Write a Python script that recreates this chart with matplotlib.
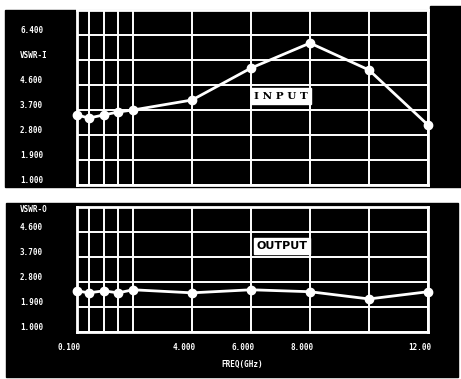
import matplotlib
matplotlib.use("Agg")
import matplotlib.pyplot as plt
from matplotlib.patches import Rectangle
from matplotlib.transforms import blended_transform_factory, ScaledTranslation

# ---- data ----
freq = [0.1, 0.5, 1.0, 1.5, 2.0, 4.0, 6.0, 8.0, 10.0, 12.0]
vswr_in = [3.52, 3.41, 3.52, 3.63, 3.70, 4.06, 5.21, 6.11, 5.14, 3.16]
vswr_out = [2.48, 2.41, 2.48, 2.41, 2.52, 2.41, 2.52, 2.45, 2.19, 2.45]

xtick_vals = [0.1, 4.0, 6.0, 8.0, 12.0]
xtick_labels = ["0.100", "4.000", "6.000", "8.000", "12.00"]
xgrid_minor = [0.5, 1.0, 1.5, 2.0, 10.0]

ytick_top = [1.0, 1.9, 2.8, 3.7, 4.6, 5.5, 6.4]
ylab_top = ["1.000", "1.900", "2.800", "3.700", "4.600", "VSWR-I", "6.400"]
ytick_bot = [1.0, 1.9, 2.8, 3.7, 4.6, 5.5]
ylab_bot = ["1.000", "1.900", "2.800", "3.700", "4.600", "VSWR-O"]

W, H = 461, 379
DPI = 100
fig = plt.figure(figsize=(W / DPI, H / DPI), dpi=DPI, facecolor="white")

def fx(px):
    return px / W

def fy(py):
    return (H - py) / H

# black background panels
for (x0, y0, x1, y1) in [(5, 10, 461, 187), (430, 6, 461, 185), (6, 203, 458, 377)]:
    fig.patches.append(Rectangle((fx(x0), fy(y1)), (x1 - x0) / W, (y1 - y0) / H,
                                 transform=fig.transFigure, color="black", zorder=-5))

L, R = 77, 428
ax1 = fig.add_axes([fx(L), fy(185), (R - L) / W, (185 - 10) / H], zorder=2)
ax2 = fig.add_axes([fx(L), fy(332), (R - L) / W, (332 - 207) / H], zorder=2)

mono = dict(family="DejaVu Sans Mono", weight="bold", size=5.5, color="white", zorder=3)

def style(ax, yt, ylim, ylabels, top_label_shift):
    ax.set_facecolor("black")
    ax.set_xlim(0.1, 12.0)
    ax.set_ylim(*ylim)
    ax.set_xticks(xtick_vals)
    ax.set_xticks(xgrid_minor, minor=True)
    ax.set_yticks(yt)
    ax.grid(True, which="both", color="white", linewidth=1.4)
    ax.tick_params(which="both", length=0, labelbottom=False, labelleft=False)
    for s in ax.spines.values():
        s.set_color("white")
        s.set_linewidth(2)
    tr = blended_transform_factory(fig.transFigure, ax.transData)
    for i, (v, lab) in enumerate(zip(yt, ylabels)):
        dy = 3 if i < len(yt) - 1 else top_label_shift
        off = ScaledTranslation(0, dy / 72, fig.dpi_scale_trans)
        fig.text(fx(20), v, lab, transform=tr + off, ha="left", va="center", **mono)

style(ax1, ytick_top, (1.0, 7.3), ylab_top, 3)
style(ax2, ytick_bot, (1.0, 5.5), ylab_bot, -2)

line_kw = dict(color="white", linewidth=2.0, marker="o", markersize=6,
               markerfacecolor="white", markeredgecolor="white", clip_on=False, zorder=5)
ax1.plot(freq, vswr_in, **line_kw)
ax2.plot(freq, vswr_out, **line_kw)

ax1.text(7.0, 4.2, "I N P U T", ha="center", va="center", color="black",
         family="DejaVu Serif", weight="bold", size=7.5, zorder=6,
         bbox=dict(boxstyle="square,pad=0.3", facecolor="white", edgecolor="white"))
ax2.text(7.05, 4.1, "OUTPUT", ha="center", va="center", color="black",
         family="DejaVu Sans", weight="bold", size=8, zorder=6,
         bbox=dict(boxstyle="square,pad=0.25", facecolor="white", edgecolor="white"))

# x tick labels (offset left like the original)
trx = blended_transform_factory(ax2.transData, fig.transFigure)
offx = ScaledTranslation(-8 / 100, 0, fig.dpi_scale_trans)
for v, lab in zip(xtick_vals, xtick_labels):
    fig.text(v, fy(348), lab, transform=trx + offx, ha="center", va="center", **mono)
fig.text(fx(242), fy(364), "FREQ(GHz)", ha="center", va="center", **mono)

fig.savefig("out.png", dpi=DPI, facecolor="white")
